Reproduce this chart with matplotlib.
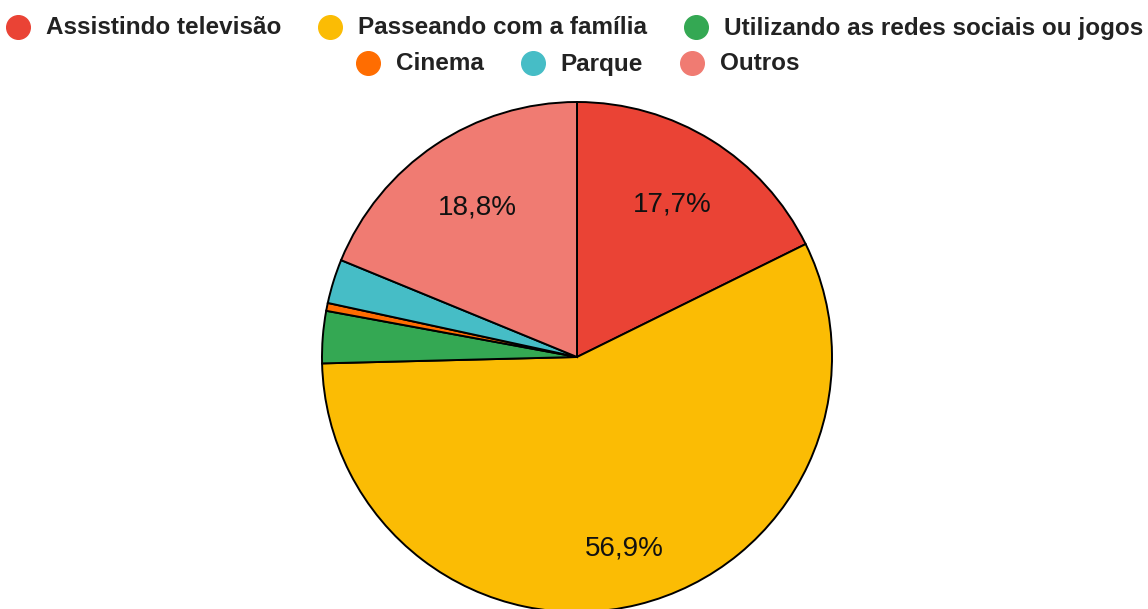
import matplotlib
matplotlib.use('Agg')
import matplotlib.pyplot as plt
import numpy as np

# dados
categorias = ['Assistindo televisão', 'Passeando com a família',
              'Utilizando as redes sociais ou jogos', 'Cinema', 'Parque', 'Outros']
valores = [17.7, 56.9, 3.3, 0.5, 2.8, 18.8]
cores = ['#EA4335', '#FBBC04', '#34A853', '#FF6D01', '#46BDC6', '#F07B72']

W, H = 1148, 609
fig = plt.figure(figsize=(W / 100, H / 100), dpi=100)

# pizza: centro ~(577, 357), raio ~255 px
cx, cy, r = 577, 357, 255
ax = fig.add_axes([(cx - r) / W, (H - cy - r) / H, 2 * r / W, 2 * r / H])

wedges, _ = ax.pie(
    valores, colors=cores, startangle=90, counterclock=False, radius=1,
    wedgeprops=dict(edgecolor='black', linewidth=1.4))
ax.set_xlim(-1, 1)
ax.set_ylim(-1, 1)
ax.axis('off')

# rótulos de porcentagem só nas fatias grandes
for w, v in zip(wedges, valores):
    if v < 5:
        continue
    ang = np.deg2rad((w.theta1 + w.theta2) / 2)
    d = 0.775 if v > 50 else 0.705
    ax.text(d * np.cos(ang), d * np.sin(ang), f'{v:.1f}%'.replace('.', ','),
            ha='center', va='center', fontsize=20, family='Liberation Sans',
            color='#111111')

# legenda feita à mão (duas linhas centralizadas, mesma linha de base)
lax = fig.add_axes([0, 0, 1, 1])
lax.set_xlim(0, W)
lax.set_ylim(H, 0)
lax.axis('off')
rend = fig.canvas.get_renderer()

fonte = dict(family='Liberation Sans', weight='bold', fontsize=17.5, color='#222222')
meio, passo, vao = 12, 28, 37   # raio do marcador, marcador->texto, texto->marcador
for i, xc, base in [(0, 574.5, 34.5), (3, 577.5, 70.5)]:
    textos = [lax.text(0, base, c, va='baseline', ha='left', **fonte)
              for c in categorias[i:i + 3]]
    larg = [t.get_window_extent(rend).width for t in textos]
    total = sum(meio + passo + lw for lw in larg) + vao * (len(larg) - 1)
    x = xc - total / 2
    for t, lw, cor in zip(textos, larg, cores[i:i + 3]):
        m = x + meio
        lax.plot(m, base - 8, 'o', markersize=17, color=cor, mec=cor)
        t.set_x(m + passo)
        x = m + passo + lw + vao

fig.savefig('out.png', dpi=100)
